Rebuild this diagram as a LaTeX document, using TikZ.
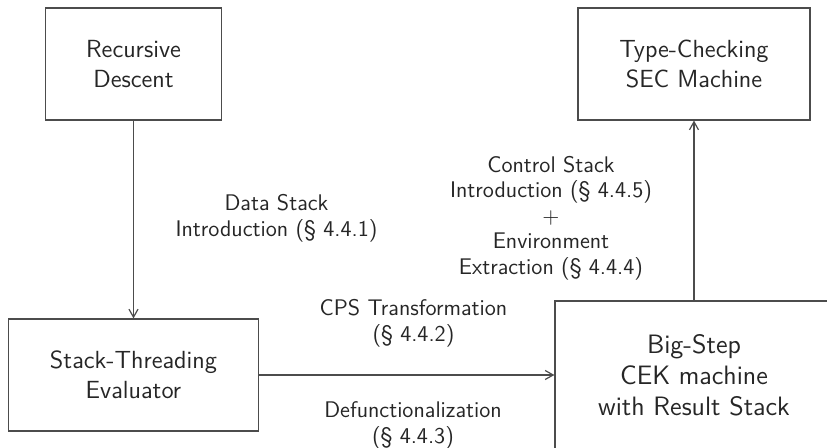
\documentclass[tikz,border=0pt]{standalone}
\usetikzlibrary{arrows.meta}
\definecolor{linecol}{gray}{0.3}
\definecolor{textcol}{gray}{0.15}
\begin{document}
\begin{tikzpicture}[x=0.5pt,y=-0.5pt,
  box/.style={draw=linecol,line width=0.6pt,rectangle,inner sep=0pt,align=center,text=textcol,
    font=\sffamily\fontsize{12.4}{15}\selectfont},
  bigbox/.style={box,font=\sffamily\fontsize{13.3}{15.5}\selectfont},
  lbl/.style={align=center,inner sep=0pt,text=textcol,font=\sffamily\fontsize{11.3}{12.75}\selectfont},
  conn/.style={draw=linecol,line width=0.6pt,-{Straight Barb[length=4pt,width=4.5pt]}}]
\useasboundingbox (0,0) rectangle (827,448);
\node[box,minimum width=88pt,minimum height=56pt] (rd) at (133.5,64) {Recursive\\Descent};
\node[box,minimum width=116pt,minimum height=56pt] (tc) at (694,64) {Type-Checking\\SEC Machine};
\node[box,minimum width=125pt,minimum height=56pt] (st) at (133.5,375) {Stack-Threading\\Evaluator};
\node[bigbox,minimum width=139pt,minimum height=74pt] (bs) at (694,375) {Big-Step\\CEK machine\\with Result Stack};
\draw[conn] (rd.south) -- (st.north);
\draw[conn] (st.east) -- (bs.west);
\draw[conn] (bs.north) -- (tc.south);
\node[lbl] (l1) at (276.5,218.5) {Data Stack\\Introduction (\S~4.4.1)};
\node[lbl] (l2) at (551,218) {Control Stack\\Introduction (\S~4.4.5)\\$+$\\Environment\\Extraction (\S~4.4.4)};
\node[lbl] (l3) at (413.5,323.5) {CPS Transformation\\(\S~4.4.2)};
\node[lbl] (l4) at (413,425.5) {Defunctionalization\\(\S~4.4.3)};
\end{tikzpicture}
\end{document}
